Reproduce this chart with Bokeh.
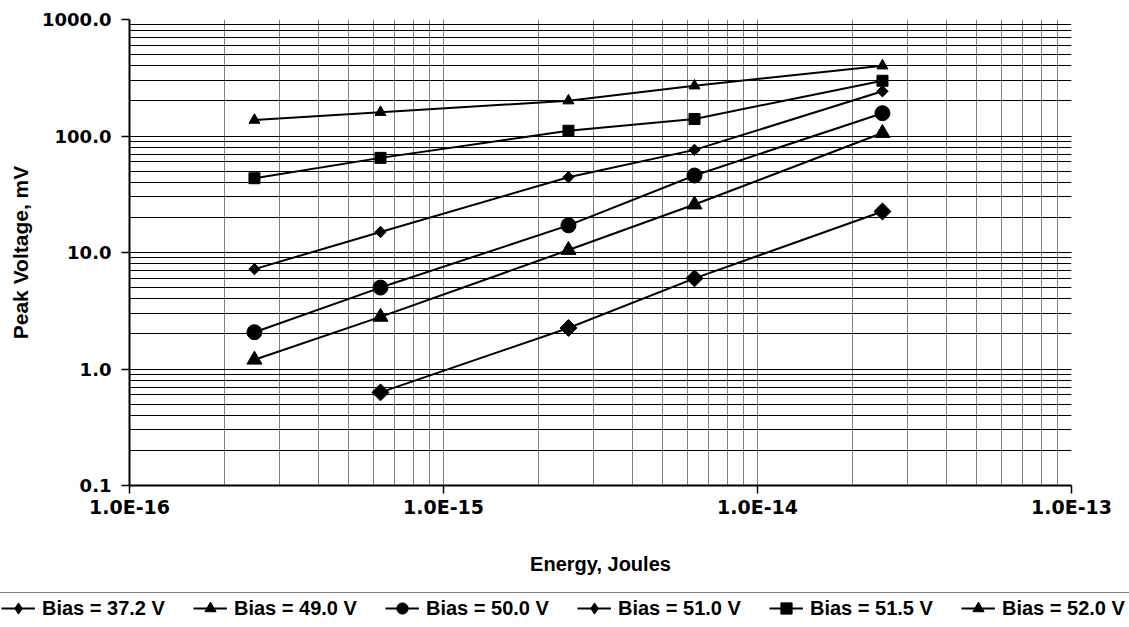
import math
from bokeh.plotting import figure
from bokeh.layouts import column
from bokeh.models import Legend, LegendItem, CustomJSTickFormatter, Range1d
from bokeh.embed import file_html
from bokeh.resources import INLINE

# Energy (Joules) at which pulses were measured
energy = [2.5e-16, 6.3e-16, 2.5e-15, 6.3e-15, 2.5e-14]

# Peak voltage (mV) per bias setting
bias_37_2 = [0.63, 2.25, 6.0, 22.5]          # measured from energy[1:]
bias_49_0 = [1.2, 2.8, 10.5, 25.8, 106.0]
bias_50_0 = [2.07, 5.0, 17.1, 45.8, 157.0]
bias_51_0 = [7.2, 15.0, 44.3, 76.0, 242.0]
bias_51_5 = [43.4, 64.9, 111.0, 140.0, 298.0]
bias_52_0 = [137.0, 160.0, 201.0, 270.0, 401.0]

labels = ["Bias = 37.2 V", "Bias = 49.0 V", "Bias = 50.0 V",
          "Bias = 51.0 V", "Bias = 51.5 V", "Bias = 52.0 V"]

FONT = "Liberation Sans"
TICKFONT = "DejaVu Sans"

fig = figure(width=1129, height=583, x_axis_type="log", y_axis_type="log",
             x_range=(1e-16, 1e-13), y_range=(0.1, 1000),
             output_backend="svg", toolbar_location=None,
             min_border_left=129, min_border_right=58,
             min_border_top=19, min_border_bottom=98)
fig.outline_line_color = None
fig.frame_align = False

# grids
fig.xgrid.grid_line_color = "#808080"
fig.xgrid.minor_grid_line_color = "#808080"
fig.ygrid.grid_line_color = "black"
fig.ygrid.minor_grid_line_color = "black"
for g in (fig.xgrid[0], fig.ygrid[0]):
    g.grid_line_width = 1
    g.minor_grid_line_width = 1

# axes
for ax in (fig.xaxis[0], fig.yaxis[0]):
    ax.axis_line_width = 2
    ax.axis_line_color = "black"
    ax.major_tick_in = 0
    ax.major_tick_out = 8
    ax.major_tick_line_width = 1.5
    ax.minor_tick_line_color = None
    ax.major_label_text_font = TICKFONT
    ax.major_label_text_font_style = "bold"
    ax.major_label_text_color = "black"
    ax.axis_label_text_font = FONT
    ax.axis_label_text_font_style = "bold"
    ax.axis_label_text_color = "black"

fig.xaxis.major_label_text_font_size = "19px"
fig.yaxis.major_label_text_font_size = "18px"
fig.xaxis.axis_label_text_font_size = "20px"
fig.yaxis.axis_label_text_font_size = "21px"
fig.xaxis.axis_label = "Energy, Joules"
fig.yaxis.axis_label = "Peak Voltage, mV"
fig.xaxis.major_label_standoff = 2
fig.xaxis.axis_label_standoff = 32
fig.yaxis.major_label_standoff = 10
fig.yaxis.axis_label_standoff = 7
fig.xaxis.formatter = CustomJSTickFormatter(code="return tick.toExponential(1).toUpperCase();")
fig.yaxis.formatter = CustomJSTickFormatter(code="return tick.toFixed(1);")

# (x, y, marker in chart, size, angle, marker in legend)
series = [
    (energy[1:], bias_37_2, "square", 12, math.pi / 4, "diamond"),
    (energy, bias_49_0, "triangle", 15, 0, "triangle"),
    (energy, bias_50_0, "circle", 15, 0, "circle"),
    (energy, bias_51_0, "square", 8, math.pi / 4, "diamond"),
    (energy, bias_51_5, "square", 11, 0, "square"),
    (energy, bias_52_0, "triangle", 11, 0, "triangle"),
]

for xs, ys, marker, size, ang, _ in series:
    fig.line(xs, ys, line_color="black", line_width=2)
    fig.scatter(xs, ys, marker=marker, size=size, angle=ang,
                fill_color="black", line_color="black")

# legend strip below the chart (its renderers lie outside its visible range)
leg = figure(width=1129, height=38, x_range=Range1d(10, 11), y_range=Range1d(10, 11),
             output_backend="svg", toolbar_location=None,
             min_border_left=0, min_border_right=0, min_border_top=0, min_border_bottom=0)
leg.frame_align = False
leg.axis.visible = False
leg.grid.visible = False
leg.outline_line_color = None

items = []
for (xs, ys, _, size, _, lmarker), lab in zip(series, labels):
    ln = leg.line(xs, ys, line_color="black", line_width=2)
    mk = leg.scatter(xs, ys, marker=lmarker, size=size,
                     fill_color="black", line_color="black")
    items.append(LegendItem(label=lab, renderers=[ln, mk]))

legend = Legend(items=items, orientation="horizontal", location=(-1, -3),
                label_text_font=FONT, label_text_font_style="bold",
                label_text_font_size="20px", label_text_color="black",
                glyph_width=34, glyph_height=28, label_height=28, label_width=131,
                label_standoff=7, spacing=20,
                padding=1, margin=0, border_line_color="black",
                border_line_width=1.5, background_fill_alpha=0)
leg.add_layout(legend, "center")

p = column(fig, leg, spacing=0)

open("out.html", "w").write(file_html(p, INLINE))
